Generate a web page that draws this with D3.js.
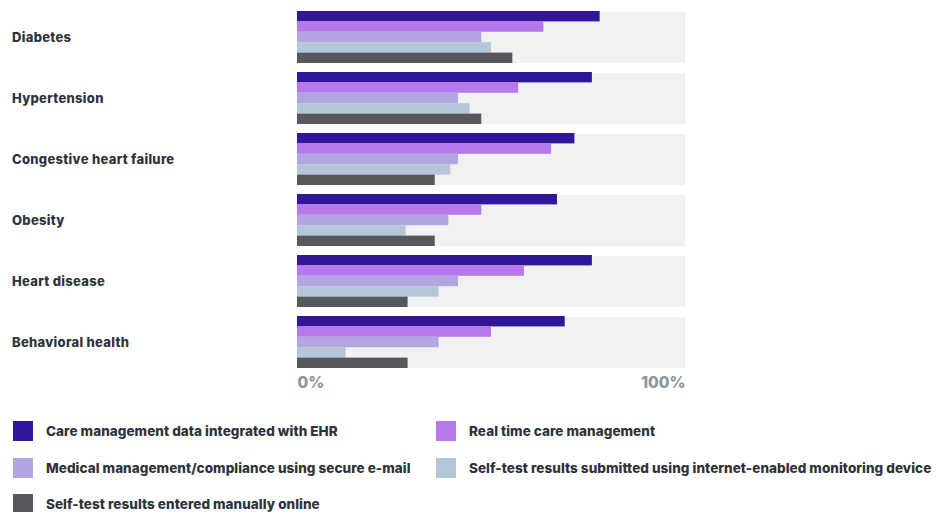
<!DOCTYPE html>
<html>
<head>
<meta charset="utf-8">
<script src="https://cdn.jsdelivr.net/npm/d3@7"></script>
<style>
  html, body { margin: 0; padding: 0; background: #ffffff; }
  svg { display: block; }
  text { font-family: Inter, "Open Sans", sans-serif; font-weight: 800; }
</style>
</head>
<body>
<svg id="chart" width="940" height="512"></svg>
<script>
// Conditions shown as row groups
const categories = [
  "Diabetes",
  "Hypertension",
  "Congestive heart failure",
  "Obesity",
  "Heart disease",
  "Behavioral health"
];

// Series names (legend order)
const seriesNames = [
  "Care management data integrated with EHR",
  "Real time care management",
  "Medical management/compliance using secure e-mail",
  "Self-test results submitted using internet-enabled monitoring device",
  "Self-test results entered manually online"
];

// Percent values per series, in category order
const careEHR      = [78, 76, 71.5, 67, 76, 69];
const realTime     = [63.5, 57, 65.5, 47.5, 58.5, 50];
const secureEmail  = [47.5, 41.5, 41.5, 39, 41.5, 36.5];
const monitoring   = [50, 44.5, 39.5, 28, 36.5, 12.5];
const manualOnline = [55.5, 47.5, 35.5, 35.5, 28.5, 28.5];

const seriesValues = [careEHR, realTime, secureEmail, monitoring, manualOnline];
const seriesColors = ["#311797", "#b778ec", "#b3a6e0", "#b5c6d8", "#56585e"];

const axisTicks = [0, 100];

const svg = d3.select("#chart");

const x = d3.scaleLinear().domain([0, 100]).range([297, 685]);

const y = d3.scaleBand()
  .domain(categories)
  .range([12, 368])
  .paddingInner(10 / 61)
  .paddingOuter(0);

// bars within a group slightly overhang the top of the band
const ySub = d3.scaleBand()
  .domain(d3.range(seriesNames.length))
  .range([-1, y.bandwidth()]);

const groups = svg.append("g").selectAll("g")
  .data(categories)
  .join("g")
  .attr("transform", d => `translate(0,${y(d)})`);

// background band
groups.append("rect")
  .attr("x", x(0))
  .attr("y", 0)
  .attr("width", x(100) - x(0))
  .attr("height", y.bandwidth())
  .attr("fill", "#f0f1f3");

groups.selectAll("rect.bar")
  .data((d, i) => seriesValues.map((vals, s) => ({ s, v: vals[i] })))
  .join("rect")
  .attr("class", "bar")
  .attr("x", x(0))
  .attr("y", d => ySub(d.s))
  .attr("width", d => x(d.v) - x(0))
  .attr("height", ySub.bandwidth())
  .attr("fill", d => seriesColors[d.s]);

// category labels
groups.append("text")
  .attr("x", 12)
  .attr("y", y.bandwidth() / 2 + 0.5)
  .attr("dominant-baseline", "middle")
  .attr("font-size", 13)
  .attr("letter-spacing", 0.3)
  .attr("fill", "#2e333a")
  .text(d => d);

// x axis: only the end labels
const axis = svg.append("g")
  .attr("transform", "translate(0,372)")
  .call(d3.axisBottom(x).tickValues(axisTicks).tickFormat(d => d + "%").tickSize(0).tickPadding(0));
axis.select(".domain").remove();
axis.selectAll("text")
  .attr("dy", null)
  .attr("y", 16)
  .attr("font-size", 15.5)
  .attr("font-family", "Inter, sans-serif")
  .attr("font-weight", 800)
  .attr("fill", "#8c949b")
  .attr("text-anchor", d => d === 0 ? "start" : "end");

// legend
const legendPos = [
  [13, 421], [436, 421],
  [13, 458], [436, 458],
  [13, 494]
];
const legend = svg.append("g").selectAll("g")
  .data(seriesNames)
  .join("g")
  .attr("transform", (d, i) => `translate(${legendPos[i][0]},${legendPos[i][1]})`);
legend.append("rect")
  .attr("width", 20)
  .attr("height", 20)
  .attr("fill", (d, i) => seriesColors[i]);
legend.append("text")
  .attr("x", 33)
  .attr("y", 11.5)
  .attr("dominant-baseline", "middle")
  .attr("font-size", 13.5)
  .attr("letter-spacing", 0.05)
  .attr("fill", "#2e333a")
  .text(d => d);
</script>
</body>
</html>
